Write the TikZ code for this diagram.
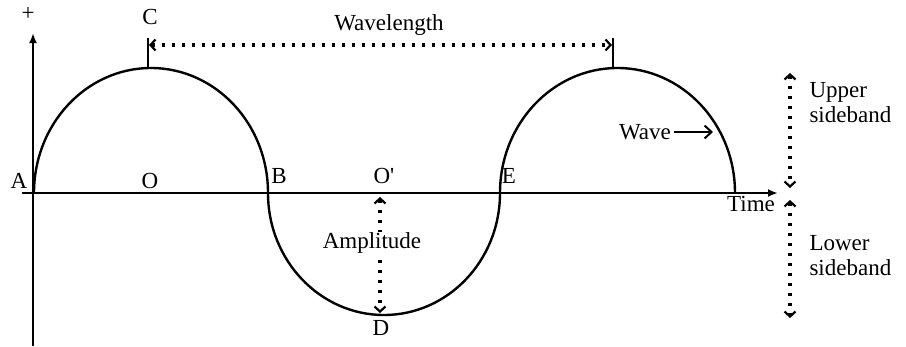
\documentclass[tikz,border=0pt]{standalone}
\usepackage{fontspec}
\setmainfont{Liberation Serif}
\usetikzlibrary{arrows.meta}

\begin{document}
\begin{tikzpicture}[x=1pt, y=-1pt,
        font=\fontsize{23}{25}\selectfont,
        axis/.style={line width=2pt, -{Latex[length=10pt, width=8pt]}},
        wave/.style={line width=2.4pt},
        tick/.style={line width=2pt},
        dimline/.style={line width=3.2pt, dash pattern=on 3.2pt off 6.8pt,
            {Straight Barb[length=5pt, width=11pt, line width=2.2pt]}-{Straight Barb[length=5pt, width=11pt, line width=2.2pt]}},
        pointer/.style={line width=2pt, -{Straight Barb[length=7pt, width=13pt, line width=2pt]}}]

        \useasboundingbox (0,0) rectangle (906,346);

        % ---------------------------------------------------
        % 1. Axes
        % ---------------------------------------------------
        \coordinate (vbot) at (33,346);
        \coordinate (vtop) at (33,33);
        \coordinate (hleft) at (22,193);
        \coordinate (hright) at (778,193);
        \draw[axis] (vbot) -- (vtop);
        \draw[axis] (hleft) -- (hright);
        \node (plus) at (28,14) {+};

        % ---------------------------------------------------
        % 2. The wave (three half ellipses)
        % ---------------------------------------------------
        \coordinate (A) at (34,193);
        \coordinate (B) at (268,193);
        \coordinate (E) at (500,193);
        \draw[wave] (A) arc[start angle=180, end angle=0, x radius=117pt, y radius=125pt]
                        arc[start angle=180, end angle=360, x radius=116pt, y radius=122pt]
                        arc[start angle=180, end angle=0, x radius=117.5pt, y radius=125pt];

        % ---------------------------------------------------
        % 3. Wavelength, amplitude and sidebands
        % ---------------------------------------------------
        % Ticks on the two crests
        \coordinate (crest1) at (148,68);
        \coordinate (crest1top) at (148,38);
        \coordinate (crest2) at (613,68);
        \coordinate (crest2top) at (613,38);
        \draw[tick] (crest1) -- (crest1top);
        \draw[tick] (crest2) -- (crest2top);
        \coordinate (wl1) at (149,45);
        \coordinate (wl2) at (612,45);
        \draw[dimline] (wl1) -- (wl2);
        \node (wavelength) at (389,25) {Wavelength};

        % Amplitude (O' down to D)
        \coordinate (amp1) at (380,197);
        \coordinate (amp2) at (380,313);
        \draw[dimline] (amp1) -- (amp2);
        \node[fill=white, inner sep=1pt] (amplitude) at (372,243) {Amplitude};

        % Sidebands
        \coordinate (up1) at (790,73);
        \coordinate (up2) at (790,188);
        \coordinate (lo1) at (790,200);
        \coordinate (lo2) at (790,318);
        \draw[dimline] (up1) -- (up2);
        \draw[dimline] (lo1) -- (lo2);
        \node[anchor=west, align=left] (upper) at (806,103) {Upper\\sideband};
        \node[anchor=west, align=left] (lower) at (806,256) {Lower\\sideband};

        % ---------------------------------------------------
        % 4. Letters and labels
        % ---------------------------------------------------
        \node (lblC) at (150,17) {C};
        \node (lblA) at (19,181) {A};
        \node (lblO) at (150,181) {O};
        \node (lblB) at (279,176) {B};
        \node (lblOp) at (384,176) {O\textquotesingle};
        \node (lblE) at (509,176) {E};
        \node (lblD) at (381,328) {D};
        \node (time) at (751,204) {Time};

        \node (wave) at (645,132) {Wave};
        \coordinate (wavetip) at (713,132);
        \draw[pointer] (wave.east) -- (wavetip);

    \end{tikzpicture}
\end{document}
